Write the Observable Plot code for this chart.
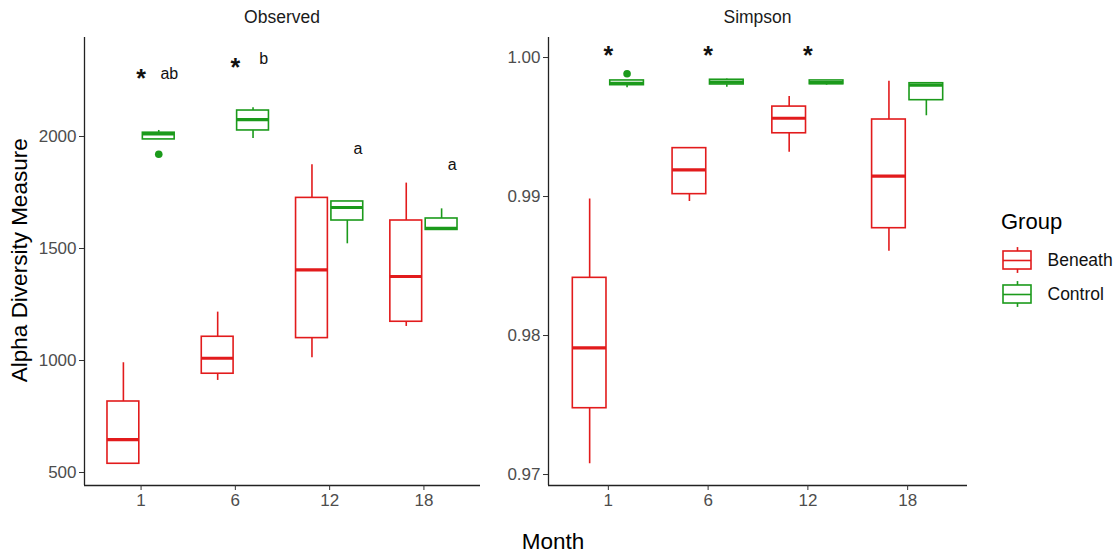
<!DOCTYPE html>
<html><head><meta charset="utf-8">
<script src="https://cdn.jsdelivr.net/npm/d3@7"></script>
<script src="https://cdn.jsdelivr.net/npm/@observablehq/plot@0.6"></script>
<style>
body{margin:0;background:#fff;font-family:"Liberation Sans",Arial,sans-serif;}
#wrap{position:relative;width:1115px;height:555px;overflow:hidden;background:#fff;}
.t{position:absolute;white-space:nowrap;line-height:1;}
</style></head><body><div id="wrap"></div>
<script>
// ---- data ----
const months = ["1", "6", "12", "18"];
const groups = ["Beneath", "Control"];
const groupColors = ["#e21b1c", "#1b9a1b"];
// box stats per month: [lower whisker, q1, median, q3, upper whisker]
const observedBeneath = [[539, 539, 647, 817, 990], [911, 941, 1010, 1106, 1216], [1012, 1100, 1405, 1726, 1874], [1152, 1173, 1375, 1625, 1792]];
const observedControl = [[1987, 1987, 2012, 2017, 2027], [1991, 2027, 2075, 2116, 2128], [1521, 1625, 1683, 1710, 1710], [1583, 1583, 1590, 1634, 1677]];
const observedOutlierMonths = ["1"];
const observedOutlierGroups = ["Control"];
const observedOutlierValues = [1921];
const simpsonBeneath = [[0.97077, 0.97477, 0.97911, 0.98415, 0.98983], [0.98964, 0.99017, 0.99192, 0.99348, 0.99352], [0.99319, 0.99455, 0.99563, 0.99647, 0.99719], [0.98606, 0.98772, 0.99146, 0.99554, 0.99830]];
const simpsonControl = [[0.99782, 0.99801, 0.99815, 0.99835, 0.99835], [0.99786, 0.99806, 0.99823, 0.99840, 0.99845], [0.99801, 0.99808, 0.99820, 0.99835, 0.99835], [0.99581, 0.99693, 0.99801, 0.99815, 0.99815]];
const simpsonOutlierMonths = ["1"];
const simpsonOutlierGroups = ["Control"];
const simpsonOutlierValues = [0.99883];
const observedStarMonths = ["1", "6"];
const observedStarValues = [2281, 2330];
const observedLetterMonths = ["1", "6", "12", "18"];
const observedLetterLabels = ["ab", "b", "a", "a"];
const observedLetterValues = [2281, 2348, 1946, 1875];
const simpsonStarMonths = ["1", "6", "12"];
const simpsonStarValues = [1.0005, 1.0005, 1.0005];
const observedTicks = [500, 1000, 1500, 2000];
const simpsonTicks = [0.97, 0.98, 0.99, 1.00];
const observedDomain = [442, 2442];
const simpsonDomain = [0.96921, 1.00144];

// ---- layout constants ----
const FONT = "'Liberation Sans', Arial, sans-serif";
const DODGE = 0.1875, HW = 0.16875, LETTER_OFF = 0.3;
const wrap = document.getElementById("wrap");

function rowsOf(beneath, control) {
  const rows = [];
  [beneath, control].forEach((arr, g) => arr.forEach((s, i) => rows.push({
    i, group: groups[g], cx: i + (g === 0 ? -DODGE : DODGE),
    lo: s[0], q1: s[1], med: s[2], q3: s[3], hi: s[4]
  })));
  return rows;
}

function panel({beneath, control, outM, outG, outV, starM, starV, letM, letL, letV, ticks, domain, fmt, width, marginLeft}) {
  const rows = rowsOf(beneath, control);
  const outliers = outV.map((v, k) => ({x: months.indexOf(outM[k]) + (outG[k] === groups[0] ? -DODGE : DODGE), v, group: outG[k]}));
  const stars = starV.map((v, k) => ({x: months.indexOf(starM[k]), v}));
  const letters = (letV || []).map((v, k) => ({x: months.indexOf(letM[k]) + LETTER_OFF, v, label: letL[k]}));
  return Plot.plot({
    width, height: 510, marginLeft, marginRight: 10, marginTop: 37, marginBottom: 25,
    style: {fontFamily: FONT, fontSize: "17px", background: "transparent", overflow: "visible"},
    x: {domain: [-0.6, 3.6]},
    y: {domain},
    color: {domain: groups, range: groupColors},
    marks: [
      Plot.ruleX(rows, {x: "cx", y1: "lo", y2: "hi", stroke: "group", strokeWidth: 1.6}),
      Plot.rect(rows, {x1: d => d.cx - HW, x2: d => d.cx + HW, y1: "q1", y2: "q3", fill: "white", stroke: "group", strokeWidth: 1.6}),
      Plot.ruleY(rows, {x1: d => d.cx - HW, x2: d => d.cx + HW, y: "med", stroke: "group", strokeWidth: 3.2}),
      Plot.dot(outliers, {x: "x", y: "v", fill: "group", r: 3.8, stroke: "none"}),
      Plot.text(stars, {x: "x", y: "v", text: () => "*", fontSize: 25, fontWeight: "bold", dy: 5, fill: "#111"}),
      Plot.text(letters, {x: "x", y: "v", text: "label", fontSize: 16, fill: "#111"}),
      Plot.ruleX([-0.6], {stroke: "#222", strokeWidth: 1.3}),
      Plot.ruleY([domain[0]], {stroke: "#222", strokeWidth: 1.3}),
      Plot.axisX({ticks: [0, 1, 2, 3], tickFormat: i => months[i], tickSize: 5, tickPadding: 3, fontSize: 17, stroke: "#333", fill: "#4d4d4d", label: null}),
      Plot.axisY({ticks, tickFormat: fmt, tickSize: 5, tickPadding: 3, fontSize: 17, stroke: "#333", fill: "#4d4d4d", label: null})
    ]
  });
}

const left = panel({beneath: observedBeneath, control: observedControl, outM: observedOutlierMonths, outG: observedOutlierGroups, outV: observedOutlierValues,
  starM: observedStarMonths, starV: observedStarValues, letM: observedLetterMonths, letL: observedLetterLabels, letV: observedLetterValues,
  ticks: observedTicks, domain: observedDomain, fmt: d3.format("d"), width: 490, marginLeft: 84});
left.style.position = "absolute"; left.style.left = "0px"; left.style.top = "0px";
wrap.appendChild(left);

const right = panel({beneath: simpsonBeneath, control: simpsonControl, outM: simpsonOutlierMonths, outG: simpsonOutlierGroups, outV: simpsonOutlierValues,
  starM: simpsonStarMonths, starV: simpsonStarValues, letM: [], letL: [], letV: [],
  ticks: simpsonTicks, domain: simpsonDomain, fmt: d3.format(".2f"), width: 487, marginLeft: 58});
right.style.position = "absolute"; right.style.left = "490px"; right.style.top = "0px";
wrap.appendChild(right);

// legend keys
const legendRows = groups.map((g, i) => ({i, group: g}));
const legend = Plot.plot({
  width: 115, height: 68, marginLeft: 3, marginRight: 84, marginTop: 0, marginBottom: 0,
  style: {fontFamily: FONT, background: "transparent", overflow: "visible"},
  x: {domain: [0, 1], axis: null},
  y: {domain: [1.5, -0.5], axis: null},
  color: {domain: groups, range: groupColors},
  marks: [
    Plot.ruleX(legendRows, {x: 0.5, y1: d => d.i - 0.38, y2: d => d.i + 0.38, stroke: "group", strokeWidth: 1.6}),
    Plot.rect(legendRows, {x1: 0, x2: 1, y1: d => d.i - 0.265, y2: d => d.i + 0.265, fill: "white", stroke: "group", strokeWidth: 1.6}),
    Plot.ruleY(legendRows, {x1: 0, x2: 1, y: "i", stroke: "group", strokeWidth: 1.6}),
    Plot.text(legendRows, {x: 1, y: "i", text: "group", dx: 16, textAnchor: "start", fontSize: 17.5, fill: "#111"})
  ]
});
legend.style.position = "absolute"; legend.style.left = "1000px"; legend.style.top = "243px";
wrap.appendChild(legend);

function label(text, css) {
  const d = document.createElement("div");
  d.className = "t"; d.textContent = text;
  Object.assign(d.style, css);
  wrap.appendChild(d);
  return d;
}
label("Observed", {left: "84px", width: "396px", textAlign: "center", top: "9px", fontSize: "17.5px", color: "#1a1a1a"});
label("Simpson", {left: "548px", width: "419px", textAlign: "center", top: "9px", fontSize: "17.5px", color: "#1a1a1a"});
label("Month", {left: "353px", width: "400px", textAlign: "center", top: "531px", fontSize: "22.5px", color: "#000"});
label("Alpha Diversity Measure", {left: "-180px", width: "400px", textAlign: "center", top: "249px", fontSize: "22.5px", color: "#000", transform: "rotate(-90deg)"});
label("Group", {left: "1001px", top: "211px", fontSize: "22px", color: "#000"});
</script></body></html>
